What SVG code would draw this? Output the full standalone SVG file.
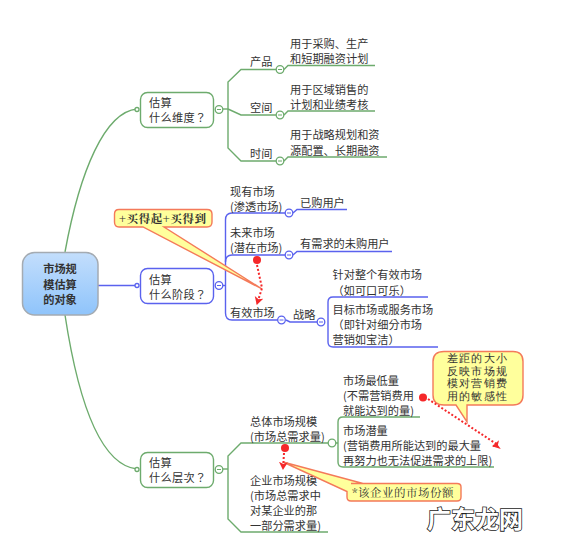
<svg xmlns="http://www.w3.org/2000/svg" width="561" height="545" viewBox="0 0 561 545">
<style>
text{font-family:"Noto Sans CJK SC","Liberation Sans",sans-serif;font-size:11.2px;fill:#333;dominant-baseline:central}
.tc{font-family:"Noto Sans CJK TC","Liberation Sans",sans-serif}
.g{fill:none;stroke:#6dab6d;stroke-width:1.4}
.b{fill:none;stroke:#5a62ee;stroke-width:1.4}
.gc{fill:#fff;stroke:#6dab6d;stroke-width:1.3}
.bc{fill:#fff;stroke:#5a62ee;stroke-width:1.3}
.mg{fill:none;stroke:#6dab6d;stroke-width:1}
.mb{fill:none;stroke:#5a62ee;stroke-width:1}
.call{fill:#ffff9c;stroke:#f47a5a;stroke-width:1.4}
.ct{font-family:"Noto Serif CJK SC","Noto Sans CJK SC",serif;font-size:11.5px;fill:#333}
.cg{font-family:"Liberation Serif",serif;font-size:10.6px;fill:#333;letter-spacing:1.2px}
.r{fill:#f5282a;stroke:none}
.d{fill:none;stroke:#f5282a;stroke-width:2;stroke-dasharray:2 2}
.q{font-size:11.2px;letter-spacing:.3px}
</style>
<defs>
<linearGradient id="rootFill" x1="0" y1="0" x2="0" y2="1"><stop offset="0" stop-color="#c3defc"/><stop offset="1" stop-color="#8fc4fb"/></linearGradient>
<marker id="arrow" markerWidth="10" markerHeight="10" refX="7" refY="4.500" orient="auto" markerUnits="userSpaceOnUse"><path d="M0 0L8 4.500L0 9L2 4.500Z" fill="#f5282a"/></marker>
</defs>
<rect width="561" height="545" fill="#fff"/>
<g id="connectors">
<path class="g" d="M65 252C80 170 105 112 137 109"/>
<path class="b" d="M98 285.500H137"/>
<path class="g" d="M65 315C78 400 100 465 137 469"/>
<path class="g" d="M223 109H228"/>
<path class="g" d="M276 69.500H241L228 82V148L241 161H276"/>
<path class="g" d="M228 109L241 115H276"/>
<path class="g" d="M284 69.500L288 65.500H375"/>
<path class="g" d="M284 115L288 111H375"/>
<path class="g" d="M284 161L288 157H387"/>
<path class="b" d="M223 285.500H225.500"/>
<path class="b" d="M285 213H232Q225.500 213 225.500 220V313Q225.500 320 232 320H278"/>
<path class="b" d="M225.500 262Q225.500 255 232 255H285"/>
<path class="b" d="M293 213L297 209.500H347"/>
<path class="b" d="M293 255L297 251.500H392"/>
<path class="b" d="M286 320L290 322H317"/>
<path class="b" d="M428 297H333Q328 297 328 302V342Q328 347 333 347H438"/>
<path class="g" d="M223 469H228"/>
<path class="g" d="M328 443H241L228 456V519L241 532H328"/>
<path class="g" d="M420 417H343Q338 417 338 422V462Q338 467 343 467H494"/>
<path class="g" d="M336 443H338"/>
</g>
<g id="root">
<rect x="22.500" y="252.500" width="75.500" height="62.500" rx="12" fill="url(#rootFill)" stroke="#a4abb2" stroke-width="1.500"/>
<text x="60" y="268" text-anchor="middle" style="font-weight:700">市场规</text>
<text x="60" y="283.500" text-anchor="middle" style="font-weight:700">模估算</text>
<text x="60" y="298.500" text-anchor="middle" style="font-weight:700">的对象</text>
</g>
<g id="node-dimension">
<rect x="140.500" y="92.500" width="73" height="35" rx="7" fill="#fff" stroke="#6dab6d" stroke-width="1.400"/>
<text class="q" x="149" y="102">估算</text><text class="q tc" x="149" y="117">什么维度？</text>
<circle class="gc" cx="137" cy="109.500" r="2"/><circle class="gc" cx="219" cy="109.500" r="3.800"/><path class="mg" d="M217 109.500H221"/>
</g>
<g id="node-stage">
<rect x="140.500" y="268.500" width="73" height="35" rx="7" fill="#fff" stroke="#5a62ee" stroke-width="1.400"/>
<text class="q" x="149" y="278.500">估算</text><text class="q tc" x="149" y="293.500">什么阶段？</text>
<circle class="bc" cx="137" cy="285.500" r="2"/><circle class="bc" cx="219" cy="285.500" r="3.800"/><path class="mb" d="M217 285.500H221"/>
</g>
<g id="node-level">
<rect x="140.500" y="452.500" width="73" height="35" rx="7" fill="#fff" stroke="#6dab6d" stroke-width="1.400"/>
<text class="q" x="149" y="462">估算</text><text class="q tc" x="149" y="477">什么层次？</text>
<circle class="gc" cx="137" cy="469.500" r="2"/><circle class="gc" cx="219" cy="469.500" r="3.800"/><path class="mg" d="M217 469.500H221"/>
</g>
<g id="node-product"><text x="250" y="61">产品</text><circle class="gc" cx="280" cy="69.500" r="3.800"/><path class="mg" d="M278 69.500H282"/></g>
<g id="node-space"><text x="250" y="107">空间</text><circle class="gc" cx="280" cy="115" r="3.800"/><path class="mg" d="M278 115H282"/></g>
<g id="node-time"><text x="250" y="153">时间</text><circle class="gc" cx="280" cy="161" r="3.800"/><path class="mg" d="M278 161H282"/></g>
<g id="node-product-use"><text x="290" y="43">用于采购、生产</text><text x="290" y="58">和短期融资计划</text></g>
<g id="node-space-use"><text x="290" y="88.500">用于区域销售的</text><text x="290" y="103.500">计划和业绩考核</text></g>
<g id="node-time-use"><text x="290" y="134">用于战略规划和资</text><text x="290" y="149.500">源配置、长期融资</text></g>
<g id="node-existing"><text x="230" y="190.500">现有市场</text><text x="230" y="205.500">(渗透市场)</text><circle class="bc" cx="289" cy="213" r="3.800"/><path class="mb" d="M287 213H291"/></g>
<g id="node-future"><text x="230" y="232">未来市场</text><text x="230" y="247">(潜在市场)</text><circle class="bc" cx="289" cy="255" r="3.800"/><path class="mb" d="M287 255H291"/></g>
<g id="node-effective"><text x="230" y="312">有效市场</text><circle class="bc" cx="281.500" cy="320" r="3.800"/><path class="mb" d="M279.500 320H283.500"/></g>
<g id="node-bought"><text x="300" y="201.500">已购用户</text></g>
<g id="node-unbought"><text x="300" y="243">有需求的未购用户</text></g>
<g id="node-strategy"><text x="293" y="314">战略</text><circle class="bc" cx="321" cy="322" r="3.800"/><path class="mb" d="M319 322H323"/></g>
<g id="node-whole"><text x="332.500" y="274">针对整个有效市场</text><text class="tc" x="332.500" y="289.500">（如可口可乐）</text></g>
<g id="node-target"><text x="332.500" y="309">目标市场或服务市场</text><text class="tc" x="332.500" y="324">（即针对细分市场</text><text class="tc" x="332.500" y="339">营销如宝洁）</text></g>
<g id="node-total"><text x="250" y="421">总体市场规模</text><text x="250" y="436">(市场总需求量)</text><circle class="gc" cx="332" cy="443" r="3.800"/></g>
<g id="node-company"><text x="250" y="480">企业市场规模</text><text x="250" y="495">(市场总需求中</text><text x="250" y="510">对某企业的那</text><text x="250" y="525">一部分需求量)</text></g>
<g id="node-min"><text x="343" y="380">市场最低量</text><text x="343" y="395">(不需营销费用</text><text x="343" y="410">就能达到的量)</text></g>
<g id="node-potential"><text x="343" y="430">市场潜量</text><text x="343" y="445">(营销费用所能达到的最大量</text><text x="343" y="460">再努力也无法促进需求的上限)</text></g>
<g id="callout-afford">
<path class="call" d="M119 209.500H207Q212 209.500 212 214V222Q212 227 207 227H164L262 289L143 227H119Q114.500 227 114.500 222V214Q114.500 209.500 119 209.500Z"/>
<text class="ct" x="119" y="218" style="font-weight:700;letter-spacing:.6px">+买得起+买得到</text>
<circle class="r" cx="257" cy="260" r="4"/>
<path class="d" d="M257 265L262 288L257 304" marker-end="url(#arrow)"/>
</g>
<g id="callout-gap">
<path class="call" d="M444 351.500H513Q523 351.500 523 361.500V395Q523 405 513 405H467V422L456 405H444Q433 405 433 395V361.500Q433 351.500 444 351.500Z"/>
<text class="cg" text-anchor="middle" x="477.500" y="358.500">差距的大小</text>
<text class="cg" text-anchor="middle" x="477.500" y="371">反映市场规</text>
<text class="cg" text-anchor="middle" x="477.500" y="383.500">模对营销费</text>
<text class="cg" text-anchor="middle" x="477.500" y="396">用的敏感性</text>
<circle class="r" cx="423" cy="397.500" r="4"/>
<path class="d" d="M428 399L498 445L493 446" marker-end="url(#arrow)"/>
</g>
<g id="callout-share">
<path class="call" d="M351 483.500H457Q461 483.500 461 487V497Q461 501 457 501H351Q347 501 347 497V491.500L283 462L363 483.500Z"/>
<text class="ct" x="352" y="492" style="letter-spacing:.5px">*该企业的市场份额</text>
<circle class="r" cx="285" cy="448" r="4"/>
<path class="d" d="M284 453L283 469" marker-end="url(#arrow)"/>
</g>
<g id="watermark"><text x="427" y="517" style="font-size:24px;font-weight:700;fill:#fff;stroke:#222;stroke-width:1.600px;paint-order:stroke">广东龙网</text></g>
</svg>
